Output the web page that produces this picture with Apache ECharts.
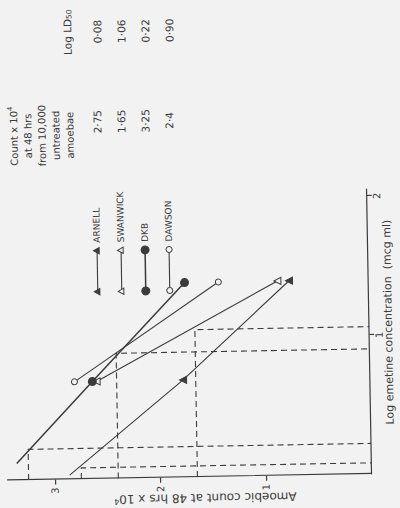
<!DOCTYPE html>
<html>
<head>
<meta charset="utf-8">
<script src="https://cdn.jsdelivr.net/npm/echarts@6/dist/echarts.min.js"></script>
<style>
html, body { margin: 0; padding: 0; width: 400px; height: 508px; overflow: hidden; background: #f2f2f2; }
/* the figure is laid out landscape and turned onto its side */
#chart { position: absolute; left: -54px; top: 54px; width: 508px; height: 400px;
  transform-origin: 50% 50%; transform: translate(-3.8px, 3px) rotate(-91deg); }
</style>
</head>
<body>
<div id="chart"></div>
<script>
// Strain table
const strains = ['ARNELL', 'SWANWICK', 'DKB', 'DAWSON'];
const untreatedCount = [2.75, 1.65, 3.25, 2.4];   // count x 10^4 at 48 hrs, untreated
const logLD50 = [0.08, 1.06, 0.22, 0.90];

// Measured counts at the two emetine concentrations
const logConc = [0.7, 1.4];
const arnellCounts = [1.77, 0.75];
const swanwickCounts = [2.59, 0.86];
const dkbCounts = [2.63, 1.74];
const dawsonCounts = [2.80, 1.42];

// Low-concentration ends of the fitted Arnell and DKB lines [log conc, count]
const arnellLineStart = [0.03, 2.86];
const dkbLineStart = [0.12, 3.36];

const ink = '#3b3b3b';
const paper = '#f2f2f2';
const font = 'DejaVu Sans';

const markers = [
  { symbol: 'triangle', size: 7, fill: ink },
  { symbol: 'triangle', size: 7, fill: paper },
  { symbol: 'circle', size: 8, fill: ink },
  { symbol: 'circle', size: 6, fill: paper }
];
const lineWidths = [1.1, 1.1, 1.5, 1.1];
const countSets = [arnellCounts, swanwickCounts, dkbCounts, dawsonCounts];
const lineStarts = [arnellLineStart, null, dkbLineStart, null];

const fmt = v => String(v).replace('.', '\u00b7');
const fmt2 = v => v.toFixed(2).replace('.', '\u00b7');

const series = [];

// LD50 construction: from the untreated count across to the LD50, then down
strains.forEach((s, i) => {
  series.push({
    type: 'line', silent: true, symbol: 'none', z: 1,
    data: [[0, untreatedCount[i]], [logLD50[i], untreatedCount[i]], [logLD50[i], 0]],
    lineStyle: { color: ink, width: 1.1, type: [6, 4] }
  });
});

strains.forEach((s, i) => {
  const data = logConc.map((c, k) => [c, countSets[i][k]]);
  if (lineStarts[i]) data.unshift({ value: lineStarts[i], symbol: 'none' });
  series.push({
    name: s, type: 'line', z: 3,
    symbol: markers[i].symbol, symbolSize: markers[i].size,
    itemStyle: { color: markers[i].fill, borderColor: ink, borderWidth: 1 },
    lineStyle: { color: ink, width: lineWidths[i] },
    data
  });
});

// Legend table, to the upper right of the plot (rows 24px apart)
const rowTop = 101;
const rowStep = 24;
const graphic = [];
function symbolEl(m, x, y) {
  const r = m.size / 2;
  if (m.symbol === 'circle') {
    return { type: 'circle', shape: { cx: x, cy: y, r }, style: { fill: m.fill, stroke: ink, lineWidth: 1 } };
  }
  return { type: 'polygon', shape: { points: [[x, y - r], [x + r * 0.9, y + r * 0.6], [x - r * 0.9, y + r * 0.6]] },
    style: { fill: m.fill, stroke: ink, lineWidth: 1 } };
}
strains.forEach((s, i) => {
  const y = rowTop + i * rowStep;
  graphic.push({ type: 'line', shape: { x1: 221, y1: y, x2: 262, y2: y }, style: { stroke: ink, lineWidth: lineWidths[i] } });
  graphic.push(symbolEl(markers[i], 221, y));
  graphic.push(symbolEl(markers[i], 262, y));
  graphic.push({ type: 'text', x: 270, y, style: { text: s, font: '9px ' + font, fill: ink, align: 'left', verticalAlign: 'middle' } });
  graphic.push({ type: 'text', x: 391, y: y + 2.4, style: { text: fmt(untreatedCount[i]), font: '10.5px ' + font, fill: ink, align: 'center', verticalAlign: 'middle' } });
  graphic.push({ type: 'text', x: 481, y: y + 4, style: { text: fmt2(logLD50[i]), font: '10.5px ' + font, fill: ink, align: 'center', verticalAlign: 'middle' } });
});
graphic.push({
  type: 'text', x: 378, y: 13,
  style: {
    text: '{a|Count x 10}{s|4}\n{a|at 48 hrs}\n{a|from 10,000}\n{a|untreated}\n{a|amoebae}',
    align: 'center', verticalAlign: 'top', fill: ink,
    rich: {
      a: { font: '10px ' + font, fill: ink, lineHeight: 14 },
      s: { font: '7px ' + font, fill: ink, verticalAlign: 'top', lineHeight: 14 }
    }
  }
});
graphic.push({
  type: 'text', x: 481, y: 75,
  style: {
    text: '{a|Log LD}{s|50}', align: 'center', verticalAlign: 'middle', fill: ink,
    rich: {
      a: { font: '10.5px ' + font, fill: ink },
      s: { font: '7.5px ' + font, fill: ink, verticalAlign: 'bottom', padding: [4, 0, 0, 0] }
    }
  }
});

const chart = echarts.init(document.getElementById('chart'), null, { renderer: 'svg' });
chart.setOption({
  animation: false,
  backgroundColor: paper,
  grid: { left: 34, right: 189, top: 7.5, bottom: 28.5, outerBoundsMode: 'none', containLabel: false },
  xAxis: {
    type: 'value', min: 0, max: 2.05, interval: 1,
    name: 'Log emetine concentration  (mcg ml)', nameLocation: 'middle', nameGap: 14, nameMoveOverlap: false,
    nameTextStyle: { color: ink, fontFamily: font, fontSize: 11, padding: [0, 0, 0, 18] },
    axisLine: { lineStyle: { color: ink, width: 1.2 } },
    axisTick: { lineStyle: { color: ink, width: 1.2 }, length: 5 },
    axisLabel: { color: ink, fontFamily: font, fontSize: 10, margin: 5, showMinLabel: false, showMaxLabel: false },
    splitLine: { show: false }
  },
  yAxis: {
    type: 'value', min: 0, max: 3.45, interval: 1,
    name: '{a|Amoebic count at 48 hrs x 10}{s|4}', nameLocation: 'middle', nameGap: 15, nameMoveOverlap: false,
    nameTextStyle: {
      color: ink, padding: [0, 31, 0, 0],
      rich: { a: { fontFamily: font, fontSize: 12, color: ink }, s: { fontFamily: font, fontSize: 8, color: ink, verticalAlign: 'top' } }
    },
    axisLine: { show: true, lineStyle: { color: ink, width: 1.2 } },
    axisTick: { show: true, lineStyle: { color: ink, width: 1.2 }, length: 5 },
    axisLabel: { color: ink, fontFamily: font, fontSize: 10, margin: 8, showMinLabel: false, showMaxLabel: false, hideOverlap: false },
    splitLine: { show: false }
  },
  graphic,
  series
});
</script>
</body>
</html>
